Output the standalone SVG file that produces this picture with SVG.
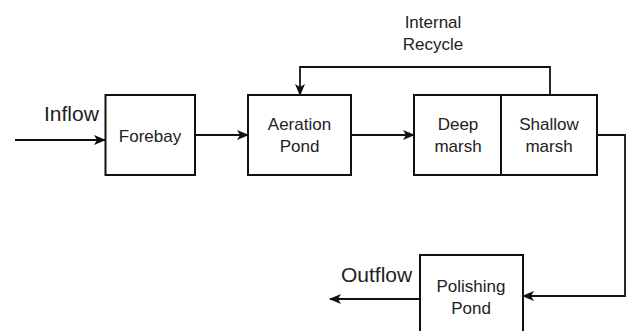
<svg xmlns="http://www.w3.org/2000/svg" width="627" height="331" viewBox="0 0 627 331">
<style>
.box{fill:#fff;stroke:#111;stroke-width:2}
.ln{fill:none;stroke:#111;stroke-width:1.8}
.t{font-family:"Liberation Sans",Arial,sans-serif;font-size:17px;fill:#222;text-anchor:middle}
.big{font-family:"Liberation Sans",Arial,sans-serif;font-size:21px;fill:#222}
</style>
<defs>
<marker id="ah" viewBox="0 0 12 10" refX="11" refY="5" markerWidth="12" markerHeight="10" markerUnits="userSpaceOnUse" orient="auto">
<path d="M0,0 L12,5 L0,10 L3,5 z" fill="#111"/>
</marker>
</defs>
<rect width="627" height="331" fill="#fff"/>
<g id="connectors">
<path class="ln" d="M15,140 H105" marker-end="url(#ah)"/>
<path class="ln" d="M195,135 H248" marker-end="url(#ah)"/>
<path class="ln" d="M351,135 H414" marker-end="url(#ah)"/>
<path class="ln" d="M550,95 V67 H300 V95" marker-end="url(#ah)"/>
<path class="ln" d="M597,135 H625 V296 H523" marker-end="url(#ah)"/>
<path class="ln" d="M420,299 H330" marker-end="url(#ah)"/>
</g>
<g id="inflow"><text class="big" x="44" y="121">Inflow</text></g>
<g id="outflow"><text class="big" x="341" y="282">Outflow</text></g>
<g id="recycle-label"><text class="t" x="433" y="28">Internal</text><text class="t" x="433" y="50">Recycle</text></g>
<g id="forebay"><rect class="box" x="105.5" y="95" width="89.5" height="80"/><text class="t" x="150" y="142">Forebay</text></g>
<g id="aeration"><rect class="box" x="248" y="95" width="103" height="80"/><text class="t" x="299.5" y="130">Aeration</text><text class="t" x="299.5" y="152">Pond</text></g>
<g id="deep-marsh"><rect class="box" x="414" y="95" width="87" height="80"/><text class="t" x="458" y="130">Deep</text><text class="t" x="458" y="152">marsh</text></g>
<g id="shallow-marsh"><rect class="box" x="501" y="95" width="96" height="80"/><text class="t" x="549" y="130">Shallow</text><text class="t" x="549" y="152">marsh</text></g>
<g id="polishing"><rect class="box" x="420" y="255" width="103" height="90"/><text class="t" x="471" y="292">Polishing</text><text class="t" x="471" y="314">Pond</text></g>
</svg>
